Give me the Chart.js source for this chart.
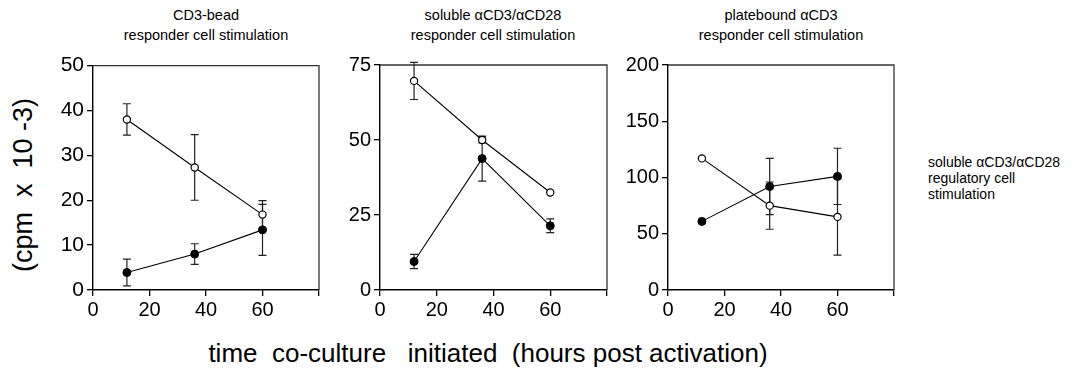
<!DOCTYPE html>
<html>
<head>
<meta charset="utf-8">
<script src="https://cdn.jsdelivr.net/npm/chart.js@4/dist/chart.umd.min.js"></script>
<style>
  body { margin: 0; background: #fff; width: 1090px; height: 372px; position: relative; overflow: hidden;
         font-family: "Liberation Sans", Arial, sans-serif; color: #000; }
  .box { position: absolute; }
  .title { position: absolute; text-align: center; font-size: 14.5px; line-height: 20px; width: 260px; }
  .ylab { position: absolute; left: 23px; top: 185px; font-size: 27px; white-space: pre;
          transform: translate(-50%, -50%) rotate(-90deg); }
  .xlab { position: absolute; left: 488px; top: 353px; font-size: 26px; white-space: pre;
          font-family: "Liberation Sans Narrow", "Liberation Sans", sans-serif; transform: translate(-50%, -50%); }
  .note { position: absolute; left: 928px; top: 154px; font-size: 14px; line-height: 16px; }
</style>
</head>
<body>
<div class="title" style="left:76px; top:5px;">CD3-bead<br>responder cell stimulation</div>
<div class="title" style="left:363px; top:5px;">soluble αCD3/αCD28<br>responder cell stimulation</div>
<div class="title" style="left:651px; top:5px;">platebound αCD3<br>responder cell stimulation</div>
<div class="ylab">(cpm  x  10 -3)</div>
<div class="xlab">time  co-culture   initiated  (hours post activation)</div>
<div class="note">soluble αCD3/αCD28<br>regulatory cell<br>stimulation</div>

<div class="box" style="left:33px; top:50px; width:296px; height:280px;"><canvas id="c1"></canvas></div>
<div class="box" style="left:320px; top:50px; width:297px; height:280px;"><canvas id="c2"></canvas></div>
<div class="box" style="left:608px; top:50px; width:296px; height:280px;"><canvas id="c3"></canvas></div>

<script>
// hours post activation when co-culture was started
const hours = [12, 36, 60];
const xTicks = [0, 20, 40, 60, 80];

// CD3-bead responder stimulation
const beadOpen = [38, 27.3, 16.8];
const beadOpenErr = [3.5, 7.3, 3.1];
const beadFilled = [3.9, 8, 13.4];
const beadFilledErr = [3, 2.3, 5.7];

// soluble aCD3/aCD28 responder stimulation
const solOpen = [69.7, 50, 32.5];
const solOpenErr = [6.2, 1, 0];
const solFilled = [9.5, 43.8, 21.4];
const solFilledErr = [2.4, 7.5, 2.3];

// platebound aCD3 responder stimulation
const plateOpen = [117, 75, 65];
const plateOpenErr = [0, 21, 34];
const plateFilled = [61, 92, 101];
const plateFilledErr = [0, 25, 25];

// error bars + box frame, drawn through the chart's own scales
const errorBars = {
    id: 'errorBars',
    beforeDatasetsDraw(chart) {
        const ctx = chart.ctx;
        const xs = chart.scales.x, ys = chart.scales.y;
        ctx.save();
        ctx.strokeStyle = '#222';
        ctx.lineWidth = 1.2;
        chart.data.datasets.forEach(ds => {
            ds.data.forEach((p, i) => {
                const e = ds.errors[i];
                if (!e) return;
                const x = xs.getPixelForValue(p.x);
                const y1 = ys.getPixelForValue(p.y + e);
                const y2 = ys.getPixelForValue(p.y - e);
                ctx.beginPath();
                ctx.moveTo(x, y1); ctx.lineTo(x, y2);
                ctx.moveTo(x - 4, y1); ctx.lineTo(x + 4, y1);
                ctx.moveTo(x - 4, y2); ctx.lineTo(x + 4, y2);
                ctx.stroke();
            });
        });
        ctx.restore();
    },
    afterDraw(chart) {
        const a = chart.chartArea, ctx = chart.ctx;
        ctx.save();
        ctx.strokeStyle = '#333';
        ctx.lineWidth = 1.3;
        ctx.beginPath();
        ctx.moveTo(a.left, a.top); ctx.lineTo(a.right, a.top); ctx.lineTo(a.right, a.bottom);
        ctx.stroke();
        ctx.restore();
    }
};

function makePanel(id, yMax, yStep, fontSize, openVals, openErr, filledVals, filledErr) {
    const pts = vals => hours.map((h, i) => ({ x: h, y: vals[i] }));
    new Chart(document.getElementById(id), {
        type: 'scatter',
        data: {
            datasets: [
                { data: pts(filledVals), errors: filledErr, showLine: true,
                  borderColor: '#000', borderWidth: 1.1, pointBackgroundColor: '#000',
                  pointBorderColor: '#000', pointRadius: 4, pointBorderWidth: 1 },
                { data: pts(openVals), errors: openErr, showLine: true,
                  borderColor: '#000', borderWidth: 1.1, pointBackgroundColor: '#fff',
                  pointBorderColor: '#000', pointRadius: 3.6, pointBorderWidth: 1.2 }
            ]
        },
        options: {
            responsive: true, maintainAspectRatio: false, animation: false,
            layout: { padding: { top: 13, right: 10, left: 0, bottom: 0 } },
            plugins: { legend: { display: false }, tooltip: { enabled: false } },
            scales: {
                x: {
                    type: 'linear', min: 0, max: 80,
                    afterBuildTicks: s => { s.ticks = xTicks.map(v => ({ value: v })); },
                    afterFit: s => { s.height = 40; },
                    border: { display: true, color: '#000', width: 1.4 },
                    grid: { drawOnChartArea: false, drawTicks: true, tickLength: 6, color: '#000', lineWidth: 1.3 },
                    ticks: { color: '#000', padding: 2, maxRotation: 0,
                             font: { family: 'Liberation Sans', size: 20 },
                             callback: v => (v === 80 ? '' : v) }
                },
                y: {
                    min: 0, max: yMax,
                    afterFit: s => { s.width = 60; },
                    border: { display: true, color: '#000', width: 1.4 },
                    grid: { drawOnChartArea: false, drawTicks: true, tickLength: 6, color: '#000', lineWidth: 1.3 },
                    ticks: { stepSize: yStep, color: '#000', padding: 3,
                             font: { family: 'Liberation Sans', size: fontSize } }
                }
            }
        },
        plugins: [errorBars]
    });
}

makePanel('c1', 50, 10, 21, beadOpen, beadOpenErr, beadFilled, beadFilledErr);
makePanel('c2', 75, 25, 20, solOpen, solOpenErr, solFilled, solFilledErr);
makePanel('c3', 200, 50, 20, plateOpen, plateOpenErr, plateFilled, plateFilledErr);
</script>
</body>
</html>
